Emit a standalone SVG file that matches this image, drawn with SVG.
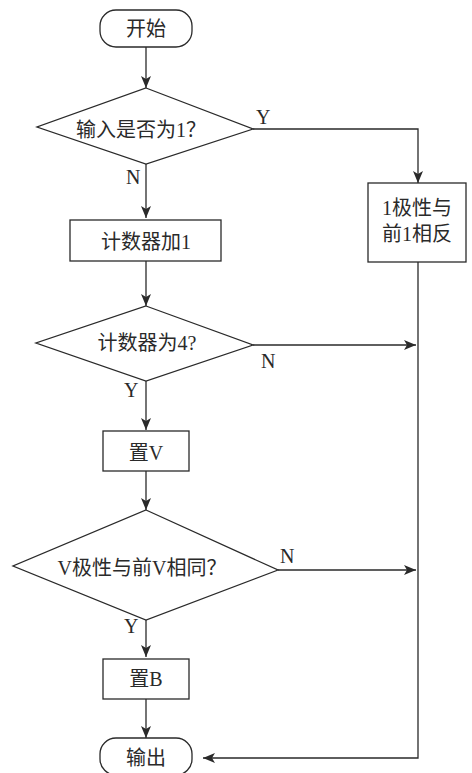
<svg xmlns="http://www.w3.org/2000/svg" width="472" height="773" viewBox="0 0 472 773">
<style>
.s{fill:#fff;stroke:#2a2a2a;stroke-width:1.3}
.c{fill:none;stroke:#2a2a2a;stroke-width:1.3}
text{font-family:"Liberation Serif","Noto Sans CJK SC",serif;font-size:20px;fill:#2a2a2a}
.m{text-anchor:middle}
</style>
<defs>
<marker id="a" viewBox="0 0 12 10" refX="12" refY="5" markerWidth="12" markerHeight="10" markerUnits="userSpaceOnUse" orient="auto">
<path d="M0,0 L12,5 L0,10 L3,5 Z" fill="#2a2a2a"/>
</marker>
</defs>
<rect width="472" height="773" fill="#fff"/>
<g id="connectors">
<path class="c" d="M146,47 V88" marker-end="url(#a)"/>
<path class="c" d="M253,129 H418 V183" marker-end="url(#a)"/>
<path class="c" d="M146,164 V218" marker-end="url(#a)"/>
<path class="c" d="M146,261 V306" marker-end="url(#a)"/>
<path class="c" d="M253,345 H416" marker-end="url(#a)"/>
<path class="c" d="M146,381 V430" marker-end="url(#a)"/>
<path class="c" d="M146,471 V510" marker-end="url(#a)"/>
<path class="c" d="M278,570 H416" marker-end="url(#a)"/>
<path class="c" d="M146,620 V657" marker-end="url(#a)"/>
<path class="c" d="M146,699 V738" marker-end="url(#a)"/>
<path class="c" d="M418,262 V758 H203" marker-end="url(#a)"/>
<text x="256" y="124">Y</text>
<text x="126" y="184">N</text>
<text x="261" y="368">N</text>
<text x="124" y="397">Y</text>
<text x="280" y="563">N</text>
<text x="124" y="633">Y</text>
</g>
<g id="start">
<rect class="s" x="100" y="10" width="92" height="37" rx="16"/>
<text class="m" x="146" y="36">开始</text>
</g>
<g id="d1">
<path class="s" d="M146,88 L253,129 L146,164 L37,127 Z"/>
<text class="m" x="141" y="137">输入是否为1？</text>
</g>
<g id="b1">
<rect class="s" x="368" y="183" width="98" height="79"/>
<text class="m" x="417" y="215">1极性与</text>
<text class="m" x="417" y="241">前1相反</text>
</g>
<g id="b2">
<rect class="s" x="70" y="220" width="151" height="41"/>
<text class="m" x="146" y="249">计数器加1</text>
</g>
<g id="d2">
<path class="s" d="M146,306 L253,345 L146,381 L36,343 Z"/>
<text class="m" x="147" y="350">计数器为4?</text>
</g>
<g id="b3">
<rect class="s" x="103" y="431" width="86" height="40"/>
<text class="m" x="146" y="460">置V</text>
</g>
<g id="d3">
<path class="s" d="M146,510 L278,570 L146,620 L13,566 Z"/>
<text class="m" x="142" y="575">V极性与前V相同？</text>
</g>
<g id="b4">
<rect class="s" x="103" y="659" width="86" height="40"/>
<text class="m" x="146" y="686">置B</text>
</g>
<g id="end">
<rect class="s" x="100" y="738" width="92" height="37" rx="16"/>
<text class="m" x="146" y="765">输出</text>
</g>
</svg>
